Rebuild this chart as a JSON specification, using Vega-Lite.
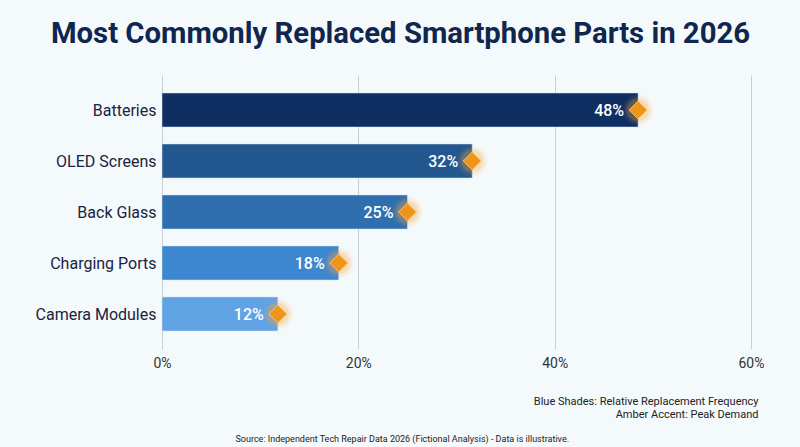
{
  "$schema": "https://vega.github.io/schema/vega-lite/v6.json",
  "width": 589,
  "height": 274,
  "autosize": {"type": "none"},
  "padding": {"left": 162, "top": 75, "right": 49, "bottom": 98},
  "background": "#f4f9fc",
  "view": {"stroke": null},
  "title": {
    "text": "Most Commonly Replaced Smartphone Parts in 2026",
    "font": "Roboto",
    "fontSize": 29.3,
    "fontWeight": "bold",
    "color": "#10264f",
    "anchor": "middle",
    "dx": -56,
    "offset": 26
  },
  "data": {
    "values": [
      {"part": "Batteries", "share": 48.5, "label": "48%"},
      {"part": "OLED Screens", "share": 31.6, "label": "32%"},
      {"part": "Back Glass", "share": 25, "label": "25%"},
      {"part": "Charging Ports", "share": 18, "label": "18%"},
      {"part": "Camera Modules", "share": 11.8, "label": "12%"}
    ]
  },
  "encoding": {
    "y": {
      "field": "part",
      "type": "nominal",
      "sort": null,
      "scale": {"paddingInner": 0.333, "paddingOuter": 0.353},
      "axis": {
        "title": "Source: Independent Tech Repair Data 2026 (Fictional Analysis) - Data is illustrative.",
        "titleFont": "Roboto",
        "titleFontSize": 9,
        "titleFontWeight": "normal",
        "titleColor": "#222",
        "titleAngle": 0,
        "titleAlign": "left",
        "titleBaseline": "middle",
        "titleX": 73,
        "titleY": 363,
        "labelFont": "Roboto",
        "labelFontSize": 16,
        "labelColor": "#1a2340",
        "labelPadding": 6,
        "labelOffset": 1,
        "ticks": false,
        "domain": false
      }
    },
    "x": {
      "field": "share",
      "type": "quantitative",
      "scale": {"domain": [0, 60]},
      "axis": {
        "values": [0, 20, 40, 60],
        "labelExpr": "datum.value + '%'",
        "labelFont": "Roboto",
        "labelFontSize": 14,
        "labelColor": "#333",
        "labelPadding": 7,
        "labelFlush": false,
        "gridColor": "#c9ced3",
        "ticks": false,
        "domain": false,
        "title": ["Blue Shades: Relative Replacement Frequency", "Amber Accent: Peak Demand"],
        "titleFont": "Roboto",
        "titleFontSize": 11,
        "titleFontWeight": "normal",
        "titleColor": "#222",
        "titleAlign": "right",
        "titleAnchor": "end",
        "titleBaseline": "top",
        "titleX": 596,
        "titleY": 46,
        "titleLineHeight": 13
      }
    }
  },
  "layer": [
    {
      "mark": {"type": "bar", "stroke": "#dbe6f0", "strokeWidth": 0.5},
      "encoding": {
        "color": {
          "field": "part",
          "type": "nominal",
          "legend": null,
          "scale": {
            "domain": ["Batteries", "OLED Screens", "Back Glass", "Charging Ports", "Camera Modules"],
            "range": ["#0f2f63", "#22578f", "#2f6fb0", "#3d86d0", "#5fa3e4"]
          }
        }
      }
    },
    {"mark": {"type": "point", "shape": "circle", "filled": true, "size": 950, "color": "#fda83a", "opacity": 0.07, "stroke": null}},
    {"mark": {"type": "point", "shape": "circle", "filled": true, "size": 700, "color": "#fda83a", "opacity": 0.12, "stroke": null}},
    {"mark": {"type": "point", "shape": "circle", "filled": true, "size": 480, "color": "#fda83a", "opacity": 0.2, "stroke": null}},
    {"mark": {"type": "point", "shape": "diamond", "filled": true, "size": 320, "color": "#ee9418", "opacity": 1, "stroke": "#fbc36f", "strokeWidth": 1}},
    {
      "mark": {"type": "text", "align": "right", "baseline": "middle", "dx": -14, "dy": 1, "font": "Roboto", "fontSize": 16, "fontWeight": 500, "color": "#ffffff"},
      "encoding": {"text": {"field": "label"}}
    }
  ]
}
